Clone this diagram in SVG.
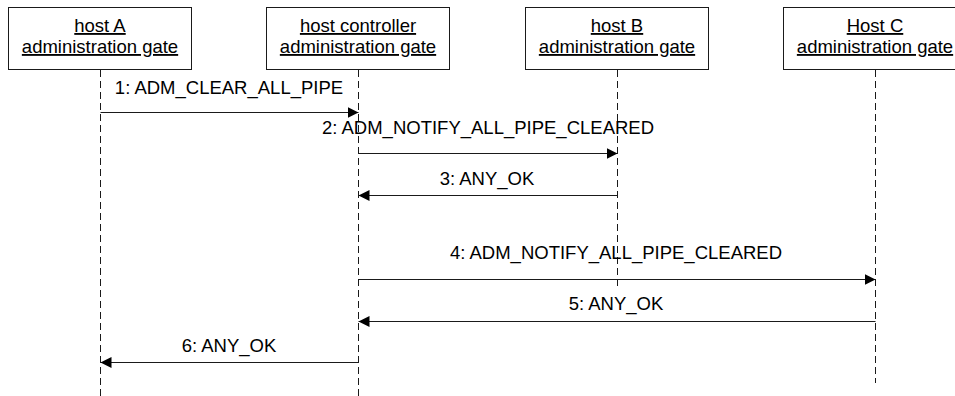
<svg xmlns="http://www.w3.org/2000/svg" width="955" height="396" viewBox="0 0 955 396">
  <style>
    .box { fill: #ffffff; stroke: #1a1a1a; stroke-width: 1; }
    .title { font-family: "Liberation Sans", Arial, sans-serif; font-size: 18.5px; fill: #000; text-anchor: middle; text-decoration: underline; }
    .life { stroke: #1a1a1a; stroke-width: 1; stroke-dasharray: 7 4; fill: none; }
    .msg { stroke: #1a1a1a; stroke-width: 1; fill: none; marker-end: url(#head); }
    .lbl { font-family: "Liberation Sans", Arial, sans-serif; font-size: 18.5px; fill: #000; text-anchor: middle; }
  </style>
  <defs>
    <marker id="head" markerUnits="userSpaceOnUse" markerWidth="11" markerHeight="11" refX="11" refY="5.5" orient="auto">
      <path d="M0,0 L11,5.5 L0,11 Z" fill="#000"/>
    </marker>
  </defs>
  <rect width="955" height="396" fill="#ffffff"/>

  <g id="hostA">
    <rect class="box" x="8.5" y="7.5" width="183" height="62"/>
    <text class="title" x="100" y="32">host A</text>
    <text class="title" x="100" y="53">administration gate</text>
    <line class="life" x1="100.5" y1="70" x2="100.5" y2="396"/>
  </g>
  <g id="hostController">
    <rect class="box" x="266.5" y="7.5" width="183" height="62"/>
    <text class="title" x="358" y="32">host controller</text>
    <text class="title" x="358" y="53">administration gate</text>
    <line class="life" x1="358.5" y1="70" x2="358.5" y2="396"/>
  </g>
  <g id="hostB">
    <rect class="box" x="525.5" y="7.5" width="183" height="62"/>
    <text class="title" x="617" y="32">host B</text>
    <text class="title" x="617" y="53">administration gate</text>
    <line class="life" x1="617.5" y1="70" x2="617.5" y2="289"/>
  </g>
  <g id="hostC">
    <rect class="box" x="783.5" y="7.5" width="183" height="62"/>
    <text class="title" x="875" y="32">Host C</text>
    <text class="title" x="875" y="53">administration gate</text>
    <line class="life" x1="875.5" y1="70" x2="875.5" y2="383"/>
  </g>

  <g id="connectors">
    <line class="msg" x1="100.5" y1="112.5" x2="358.5" y2="112.5"/>
    <text class="lbl" x="229" y="94">1: ADM_CLEAR_ALL_PIPE</text>

    <line class="msg" x1="358.5" y1="153.5" x2="617.5" y2="153.5"/>
    <text class="lbl" x="488" y="134">2: ADM_NOTIFY_ALL_PIPE_CLEARED</text>

    <line class="msg" x1="617.5" y1="195.5" x2="358.5" y2="195.5"/>
    <text class="lbl" x="487" y="185">3: ANY_OK</text>

    <line class="msg" x1="358.5" y1="279.5" x2="875.5" y2="279.5"/>
    <text class="lbl" x="616" y="259">4: ADM_NOTIFY_ALL_PIPE_CLEARED</text>

    <line class="msg" x1="875.5" y1="321.5" x2="358.5" y2="321.5"/>
    <text class="lbl" x="616" y="310">5: ANY_OK</text>

    <line class="msg" x1="358.5" y1="362.5" x2="100.5" y2="362.5"/>
    <text class="lbl" x="229" y="352">6: ANY_OK</text>
  </g>
</svg>
